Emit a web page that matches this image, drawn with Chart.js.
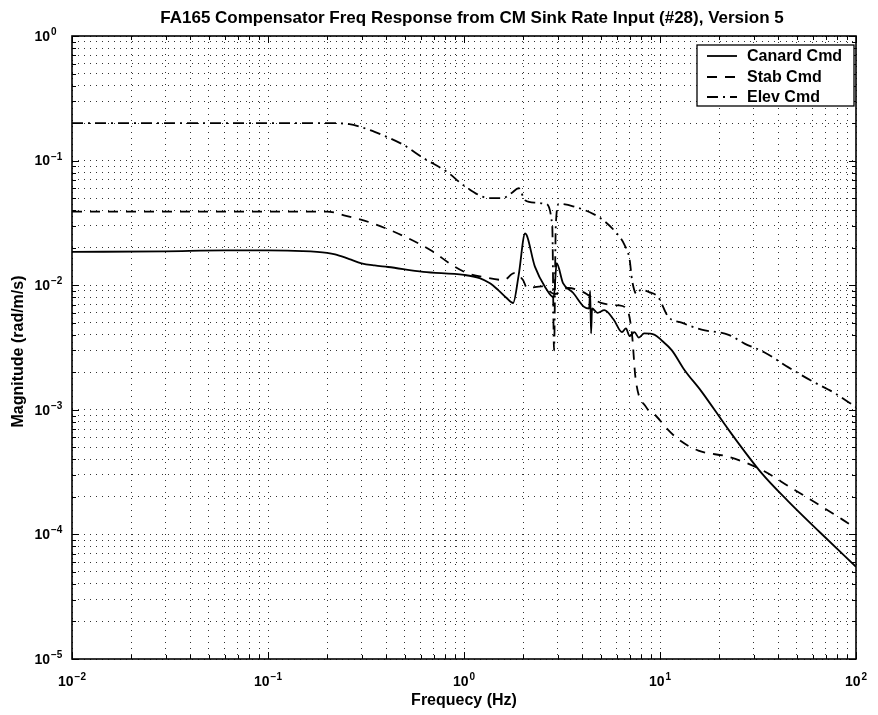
<!DOCTYPE html>
<html>
<head>
<meta charset="utf-8">
<script src="https://cdn.jsdelivr.net/npm/chart.js@4.4.1/dist/chart.umd.min.js"></script>
<style>
html, body { margin: 0; padding: 0; background: #fff; }
#wrap { width: 878px; height: 715px; }
</style>
</head>
<body>
<div id="wrap"><canvas id="bode" width="878" height="715"></canvas></div>
<script>
// values (Hz, rad/m/s)
var canardFreq = [0.01, 0.03, 0.06, 0.1, 0.15, 0.2, 0.22, 0.26, 0.3, 0.35, 0.41, 0.62, 1.0, 1.2, 1.35, 1.5, 1.65, 1.78, 1.9, 2.05, 2.3, 2.6, 2.87, 2.97, 3.2, 3.6, 4.1, 4.35, 4.4, 4.45, 4.5, 4.8, 5.2, 5.8, 6.4, 6.7, 7.0, 7.4, 7.8, 8.3, 9.4, 10.2, 11.5, 13.3, 16.3, 22.4, 33, 45, 65, 100];
var canardMag = [0.0185, 0.0187, 0.019, 0.019, 0.0188, 0.0182, 0.0177, 0.0162, 0.015, 0.0144, 0.014, 0.0128, 0.0121, 0.0114, 0.0104, 0.0091, 0.0079, 0.0072, 0.012, 0.026, 0.0141, 0.0096, 0.008, 0.015, 0.0104, 0.0087, 0.0067, 0.0065, 0.009, 0.0041, 0.0065, 0.006, 0.0063, 0.0053, 0.0042, 0.0045, 0.0039, 0.0042, 0.0038, 0.0041, 0.0040, 0.0036, 0.0030, 0.0021, 0.0014, 0.00069, 0.00031, 0.000185, 0.000105, 0.000055];

var stabFreq = [0.01, 0.1, 0.2, 0.25, 0.31, 0.46, 0.68, 0.87, 1.04, 1.3, 1.6, 1.8, 2.0, 2.1, 2.5, 2.9, 3.4, 4.06, 5.0, 6.1, 6.8, 7.2, 7.5, 8.5, 9.5, 11, 12.4, 15.7, 22.3, 33, 46, 62, 85, 100];
var stabMag = [0.039, 0.039, 0.039, 0.036, 0.033, 0.026, 0.019, 0.0145, 0.0125, 0.0115, 0.011, 0.0125, 0.011, 0.0095, 0.0098, 0.0085, 0.0095, 0.0088, 0.0072, 0.0069, 0.0064, 0.004, 0.0018, 0.00105, 0.0009, 0.00069, 0.00058, 0.00047, 0.00042, 0.00033, 0.00024, 0.00018, 0.000132, 0.000112];

var elevFreq = [0.01, 0.1, 0.2, 0.26, 0.3, 0.35, 0.49, 0.62, 0.83, 1.0, 1.35, 1.58, 1.75, 1.9, 2.05, 2.3, 2.6, 2.82, 2.88, 2.94, 3.05, 3.6, 4.9, 5.9, 6.6, 7.0, 7.2, 7.6, 8.0, 8.8, 9.8, 11, 12.9, 16.3, 22.4, 27, 34, 45, 59.6, 78, 100];
var elevMag = [0.2, 0.2, 0.2, 0.196, 0.185, 0.17, 0.134, 0.105, 0.08, 0.063, 0.05, 0.05, 0.055, 0.06, 0.048, 0.046, 0.045, 0.03, 0.003, 0.03, 0.045, 0.043, 0.035, 0.027, 0.021, 0.016, 0.011, 0.0085, 0.0092, 0.0088, 0.008, 0.0056, 0.005, 0.0044, 0.004, 0.0034, 0.0029, 0.0022, 0.0017, 0.00136, 0.00105];

var seriesNames = ["Canard Cmd", "Stab Cmd", "Elev Cmd"];
var xDecades = [-2, -1, 0, 1, 2];
var yDecades = [-5, -4, -3, -2, -1, 0];

var titleText = "FA165 Compensator Freq Response from CM Sink Rate Input (#28), Version 5";
var xLabel = "Frequecy (Hz)";
var yLabel = "Magnitude (rad/m/s)";

function pairs(fs, ms) {
	var out = [];
	for (var i = 0; i < fs.length; i++) out.push({x: fs[i], y: ms[i]});
	return out;
}

// 1..9 x 10^n for every decade, so every minor line gets a grid line
function logTicks(decades) {
	var t = [];
	for (var i = 0; i < decades.length; i++) {
		var base = Math.pow(10, decades[i]);
		if (i == decades.length - 1) { t.push({value: base, major: true}); break; }
		for (var k = 1; k < 10; k++) t.push({value: k * base, major: k == 1});
	}
	return t;
}

var FONT = "Liberation Sans, Arial, sans-serif";

function drawPow(ctx, x, y, exp, align) {
	ctx.font = "bold 14px " + FONT;
	var wBase = ctx.measureText("10").width;
	ctx.font = "bold 10px " + FONT;
	var sup = String(exp).replace("-", "\u2212");
	var wSup = ctx.measureText(sup).width;
	var x0;
	if (align == "center") x0 = x - (wBase + 1 + wSup) / 2;
	else x0 = x - wBase;  // "10" right edge at x, exponent hangs after
	ctx.textAlign = "left";
	ctx.textBaseline = "middle";
	ctx.font = "bold 14px " + FONT;
	ctx.fillText("10", x0, y);
	ctx.textBaseline = "alphabetic";
	ctx.font = "bold 10px " + FONT;
	ctx.fillText(sup, x0 + wBase + 1, y - 2);
}

var decorPlugin = {
	id: "decor",
	afterDraw: function(chart) {
		var ctx = chart.ctx, a = chart.chartArea;
		var xs = chart.scales.x, ys = chart.scales.y;
		ctx.save();
		ctx.fillStyle = "#000";
		ctx.strokeStyle = "#000";

		// box
		ctx.lineWidth = 1.6;
		ctx.strokeRect(a.left, a.top, a.right - a.left, a.bottom - a.top);

		// inward tick marks on all four sides
		ctx.lineWidth = 1;
		ctx.beginPath();
		xs.ticks.forEach(function(t) {
			var px = Math.round(xs.getPixelForValue(t.value)) + 0.5;
			var len = t.major ? 7 : 4;
			ctx.moveTo(px, a.bottom); ctx.lineTo(px, a.bottom - len);
			ctx.moveTo(px, a.top); ctx.lineTo(px, a.top + len);
		});
		ys.ticks.forEach(function(t) {
			var py = Math.round(ys.getPixelForValue(t.value)) + 0.5;
			var len = t.major ? 7 : 4;
			ctx.moveTo(a.left, py); ctx.lineTo(a.left + len, py);
			ctx.moveTo(a.right, py); ctx.lineTo(a.right - len, py);
		});
		ctx.stroke();

		// tick labels
		xDecades.forEach(function(e) {
			drawPow(ctx, xs.getPixelForValue(Math.pow(10, e)), a.bottom + 23, e, "center");
		});
		yDecades.forEach(function(e) {
			drawPow(ctx, 50, ys.getPixelForValue(Math.pow(10, e)) + 1, e, "right");
		});

		// title + axis labels
		ctx.font = "bold 17px " + FONT;
		ctx.textAlign = "center";
		ctx.textBaseline = "middle";
		ctx.fillText(titleText, 472, 18);
		ctx.font = "bold 16px " + FONT;
		ctx.fillText(xLabel, (a.left + a.right) / 2, 701);
		ctx.save();
		ctx.translate(19, (a.top + a.bottom) / 2 + 4);
		ctx.rotate(-Math.PI / 2);
		ctx.fillText(yLabel, 0, 0);
		ctx.restore();

		// legend box inside the plot, top right
		var lx = 697, ly = 45, lw = 157, lh = 61;
		ctx.fillStyle = "#fff";
		ctx.fillRect(lx, ly, lw, lh);
		ctx.lineWidth = 1.3;
		ctx.strokeRect(lx, ly, lw, lh);
		var rows = [56, 77, 97];
		chart.data.datasets.forEach(function(ds, i) {
			ctx.save();
			ctx.lineWidth = ds.borderWidth;
			ctx.setLineDash(ds.borderDash || []);
			ctx.beginPath();
			ctx.moveTo(707, rows[i]);
			ctx.lineTo(737, rows[i]);
			ctx.stroke();
			ctx.restore();
			ctx.fillStyle = "#000";
			ctx.font = "bold 16px " + FONT;
			ctx.textAlign = "left";
			ctx.textBaseline = "middle";
			ctx.fillText(ds.label, 747, rows[i] + 1);
		});
		ctx.restore();
	}
};

var gridOpts = { color: "rgba(0,0,0,0.8)", lineWidth: 1, drawTicks: false };
var borderOpts = { display: false, dash: [1, 5] };

new Chart(document.getElementById("bode"), {
	type: "line",
	data: {
		datasets: [
			{ label: seriesNames[0], data: pairs(canardFreq, canardMag), borderColor: "#000", borderWidth: 1.8 },
			{ label: seriesNames[1], data: pairs(stabFreq, stabMag), borderColor: "#000", borderWidth: 1.8, borderDash: [10, 8] },
			{ label: seriesNames[2], data: pairs(elevFreq, elevMag), borderColor: "#000", borderWidth: 1.8, borderDash: [11, 5, 2, 5] }
		]
	},
	options: {
		responsive: false,
		animation: false,
		devicePixelRatio: 1,
		parsing: false,
		elements: {
			point: { radius: 0 },
			line: { fill: false, cubicInterpolationMode: "monotone" }
		},
		layout: { padding: { left: 72, top: 36, right: 22, bottom: 56 } },
		plugins: {
			legend: { display: false },
			title: { display: false },
			tooltip: { enabled: false }
		},
		scales: {
			x: {
				type: "logarithmic",
				min: 0.01, max: 100,
				afterBuildTicks: function(axis) { axis.ticks = logTicks(xDecades); },
				ticks: { display: false, autoSkip: false },
				grid: gridOpts,
				border: borderOpts
			},
			y: {
				type: "logarithmic",
				min: 1e-5, max: 1,
				afterBuildTicks: function(axis) { axis.ticks = logTicks(yDecades); },
				ticks: { display: false, autoSkip: false },
				grid: gridOpts,
				border: borderOpts
			}
		}
	},
	plugins: [decorPlugin]
});
</script>
</body>
</html>
